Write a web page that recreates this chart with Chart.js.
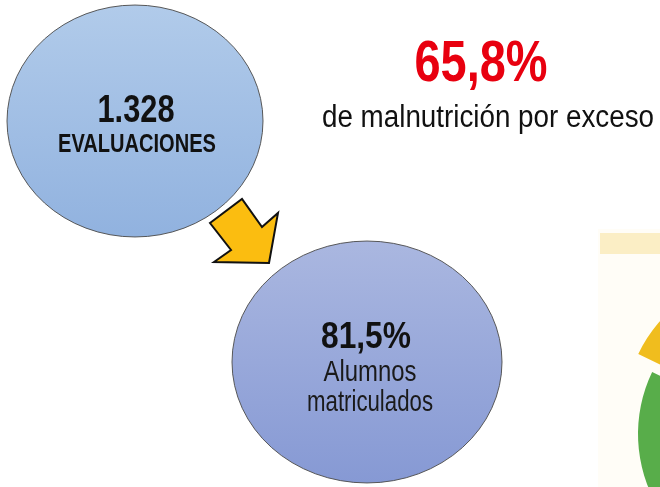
<!DOCTYPE html>
<html>
<head>
<meta charset="utf-8">
<script src="https://cdn.jsdelivr.net/npm/chart.js@4"></script>
<style>
  html, body { margin: 0; padding: 0; background: #fff; overflow: hidden; }
  #wrap { position: relative; width: 660px; height: 487px; overflow: hidden; }
  #main { position: absolute; left: 0; top: 0; }
  #pie { position: absolute; left: 581px; top: 234px; }
</style>
</head>
<body>
<div id="wrap">
  <canvas id="main" width="660" height="487"></canvas>
  <canvas id="pie" width="400" height="400"></canvas>
</div>
<script>
// circles (bubbles)
var circleValues = ["1.328", "81,5%"];
var circleLabels = [["EVALUACIONES"], ["Alumnos", "matriculados"]];
var circleX = [135, 367];
var circleY = [121, 362];
var circleR = [128, 135];

// headline
var headlineValue = "65,8%";
var headlineText = "de malnutrición por exceso";

// pie on the right edge (only part of it is in view)
var pieLabels = ["Obesidad severa", "Obesidad", "Sobrepeso", "Bajo peso", "Normal"];
var pieValues = [16.3, 24.3, 25.2, 2.7, 31.5];

// styles
var squash = [0.906, 0.896];
var gradTop = ["#b1cbea", "#aab7e0"];
var gradBottom = ["#91b2df", "#8699d4"];
var FONT = "'Liberation Sans', Arial, sans-serif";

function drawText(ctx, str, cx, base, size, bold, color, width) {
  ctx.save();
  ctx.font = (bold ? "bold " : "") + size + "px " + FONT;
  var w = ctx.measureText(str).width;
  ctx.translate(cx, base);
  ctx.scale(width / w, 1);
  ctx.fillStyle = color;
  ctx.textAlign = "center";
  ctx.textBaseline = "alphabetic";
  ctx.fillText(str, 0, 0);
  ctx.restore();
}

var decor = {
  id: "decor",
  beforeDraw: function (chart) {
    var ctx = chart.ctx;
    ctx.save();
    ctx.fillStyle = "#ffffff";
    ctx.fillRect(0, 0, chart.width, chart.height);
    ctx.fillStyle = "#fffdf7";
    ctx.fillRect(598, 229, 62, 258);
    ctx.fillStyle = "#fbeec5";
    ctx.fillRect(600, 233, 60, 21);
    ctx.restore();
  },
  beforeDatasetDraw: function (chart, args) {
    var i = args.index, ctx = chart.ctx;
    var px = chart.scales.x.getPixelForValue(circleX[i]);
    var py = chart.scales.y.getPixelForValue(circleY[i]);
    ctx.save();
    ctx.translate(px, py);
    ctx.scale(1, squash[i]);
    ctx.translate(-px, -py);
  },
  afterDatasetDraw: function (chart) {
    chart.ctx.restore();
  },
  afterDatasetsDraw: function (chart) {
    var ctx = chart.ctx;
    var pts = [[210, 223], [242, 199], [262, 227], [278, 213], [269, 263], [214, 262], [231, 250]];
    ctx.save();
    ctx.beginPath();
    pts.forEach(function (p, k) {
      if (k === 0) ctx.moveTo(p[0], p[1]); else ctx.lineTo(p[0], p[1]);
    });
    ctx.closePath();
    ctx.fillStyle = "#fbbd10";
    ctx.fill();
    ctx.lineWidth = 2;
    ctx.lineJoin = "miter";
    ctx.strokeStyle = "#111";
    ctx.stroke();
    ctx.restore();
  },
  afterDraw: function (chart) {
    var ctx = chart.ctx;
    // circle 1
    drawText(ctx, circleValues[0], 136, 122, 39, true, "#111", 77);
    drawText(ctx, circleLabels[0][0], 137, 152, 25, true, "#111", 158);
    // circle 2
    drawText(ctx, circleValues[1], 366, 348, 37, true, "#111", 90);
    drawText(ctx, circleLabels[1][0], 370, 381, 29, false, "#1a1a1a", 93);
    drawText(ctx, circleLabels[1][1], 370, 411, 29, false, "#1a1a1a", 126);
    // headline
    drawText(ctx, headlineValue, 481, 81, 58, true, "#e8000f", 133);
    drawText(ctx, headlineText, 488, 127, 31, false, "#111", 332);
  }
};

var datasets = circleX.map(function (x, i) {
  return {
    label: circleLabels[i].join(" "),
    data: [{ x: x, y: circleY[i], r: circleR[i] }],
    clip: false,
    borderColor: "#505050",
    borderWidth: 1,
    backgroundColor: function (c) {
      var ch = c.chart;
      var py = ch.scales && ch.scales.y ? ch.scales.y.getPixelForValue(circleY[i]) : NaN;
      if (!isFinite(py)) return gradBottom[i];
      var g = ch.ctx.createLinearGradient(0, py - circleR[i], 0, py + circleR[i]);
      g.addColorStop(0, gradTop[i]);
      g.addColorStop(1, gradBottom[i]);
      return g;
    }
  };
});

new Chart(document.getElementById("main"), {
  type: "bubble",
  data: { datasets: datasets },
  options: {
    responsive: false,
    animation: false,
    events: [],
    layout: { padding: 0, autoPadding: false },
    scales: {
      x: { display: false, min: 0, max: 660 },
      y: { display: false, min: 0, max: 487, reverse: true }
    },
    plugins: { legend: { display: false }, tooltip: { enabled: false } }
  },
  plugins: [decor]
});

new Chart(document.getElementById("pie"), {
  type: "pie",
  data: {
    labels: pieLabels,
    datasets: [{
      data: pieValues,
      backgroundColor: ["#f0bd1e", "#ed7d31", "#e8a33a", "#a5a5a5", "#58ad4a"],
      borderWidth: 0,
      offset: [80, 0, 0, 0, 0]
    }]
  },
  options: {
    responsive: false,
    animation: false,
    events: [],
    radius: 143,
    rotation: 295.7,
    layout: { padding: 0 },
    plugins: { legend: { display: false }, tooltip: { enabled: false } }
  }
});
</script>
</body>
</html>
